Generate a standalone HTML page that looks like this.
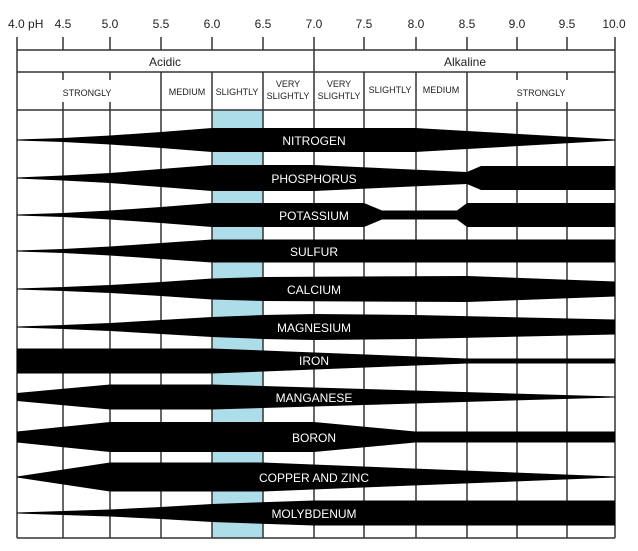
<!DOCTYPE html>
<html><head><meta charset="utf-8"><style>
html,body{margin:0;padding:0;background:#fff;}
svg{display:block;font-family:"Liberation Sans",Arial,sans-serif;}
</style></head><body>
<svg width="638" height="551" viewBox="0 0 638 551" xmlns="http://www.w3.org/2000/svg">
<rect x="0" y="0" width="638" height="551" fill="#fff"/>
<rect x="212" y="110" width="51" height="428" fill="#acdde9"/>
<g stroke="#333" stroke-width="1.5" fill="none">
<path d="M17 37V538M63 37V50M110 37V50M161 37V50M212 37V50M263 37V50M314 37V538M364 37V50M416 37V50M467 37V50M517 37V50M567 37V50M615 37V538"/>
<path d="M17 50H615M17 72H615M17 110H615M17 538H615"/>
<path d="M161 72V538M212 72V538M263 72V538M364 72V538M416 72V538M467 72V538"/>
<path d="M63 110V538M110 110V538M517 110V538M567 110V538"/>
<path d="M63 72V80M110 72V80M517 72V80M567 72V80M63 102V110M110 102V110M517 102V110M567 102V110"/>
</g>
<g font-size="12" fill="#222" text-anchor="middle">
<text x="8" y="28" text-anchor="start">4.0 pH</text>
<text x="63" y="28">4.5</text><text x="110" y="28">5.0</text><text x="161" y="28">5.5</text>
<text x="212" y="28">6.0</text><text x="263" y="28">6.5</text><text x="314" y="28">7.0</text>
<text x="364" y="28">7.5</text><text x="416" y="28">8.0</text><text x="467" y="28">8.5</text>
<text x="517" y="28">9.0</text><text x="567" y="28">9.5</text><text x="614" y="28">10.0</text>
<text x="165" y="66">Acidic</text><text x="465" y="66">Alkaline</text>
</g>
<g font-size="9" fill="#222" text-anchor="middle">
<text x="87" y="96">STRONGLY</text><text x="187" y="95">MEDIUM</text><text x="237" y="95">SLIGHTLY</text>
<text x="288" y="87">VERY</text><text x="288" y="99">SLIGHTLY</text>
<text x="339" y="87">VERY</text><text x="339" y="99">SLIGHTLY</text>
<text x="390" y="93">SLIGHTLY</text><text x="441" y="93">MEDIUM</text><text x="541" y="96">STRONGLY</text>
</g>
<g fill="#000">
<polygon points="17,139.5 63,138 110,135.5 161,132 212,128 415,128 615,139.5 615,140.5 415,152 212,152 161,148 110,144.5 63,142 17,140.5"/>
<polygon points="17,177.5 63,175.5 110,173 161,169 212,165 314,165 467,172 481,166 615,166 615,190 481,190 467,184 314,191 212,191 161,187 110,183 63,180.5 17,178.5"/>
<polygon points="17,214.5 63,213 110,210.5 161,207 212,203 364,203 382,210.5 457,210.5 467,203 615,203 615,227 467,227 457,219.5 382,219.5 364,227 212,227 161,223 110,219.5 63,217 17,215.5"/>
<polygon points="17,250.5 63,249 110,246.5 161,243 212,239.5 615,239.5 615,262.5 212,262.5 161,259 110,255.5 63,253 17,251.5"/>
<polygon points="17,288.5 63,287 110,285 161,282 212,278.5 263,277 467,276 615,281.5 615,296.5 467,302 263,301 212,299.5 161,296 110,293 63,291 17,289.5"/>
<polygon points="17,326.5 63,325 110,323 161,320 212,317 263,315 314,314 415,315 615,319.5 615,334.5 415,339 314,340 263,339 212,337 161,334 110,331 63,329 17,327.5"/>
<polygon points="17,348.5 212,348.5 467,358.5 615,358.5 615,363.5 467,363.5 212,373.5 17,373.5"/>
<polygon points="17,393 110,384.5 212,384.5 615,396.5 615,397.5 212,409.5 110,409.5 17,401"/>
<polygon points="17,431.5 110,422 314,422 415,431.5 615,431.5 615,442.5 415,442.5 314,452 110,452 17,442.5"/>
<polygon points="17,476.5 110,462.5 263,462.5 615,476.5 615,477.5 263,491.5 110,491.5 17,477.5"/>
<polygon points="17,512.5 63,511 110,509.5 161,507 212,504 314,500.5 615,500.5 615,525.5 314,525.5 212,522 161,519 110,516.5 63,515 17,513.5"/>
</g>
<g font-size="12" fill="#fff" text-anchor="middle">
<text x="314" y="145">NITROGEN</text>
<text x="314" y="183">PHOSPHORUS</text>
<text x="314" y="220">POTASSIUM</text>
<text x="314" y="256">SULFUR</text>
<text x="314" y="294">CALCIUM</text>
<text x="314" y="332">MAGNESIUM</text>
<text x="314" y="365">IRON</text>
<text x="314" y="402">MANGANESE</text>
<text x="314" y="442">BORON</text>
<text x="314" y="482">COPPER AND ZINC</text>
<text x="314" y="518">MOLYBDENUM</text>
</g>
</svg>
</body></html>
